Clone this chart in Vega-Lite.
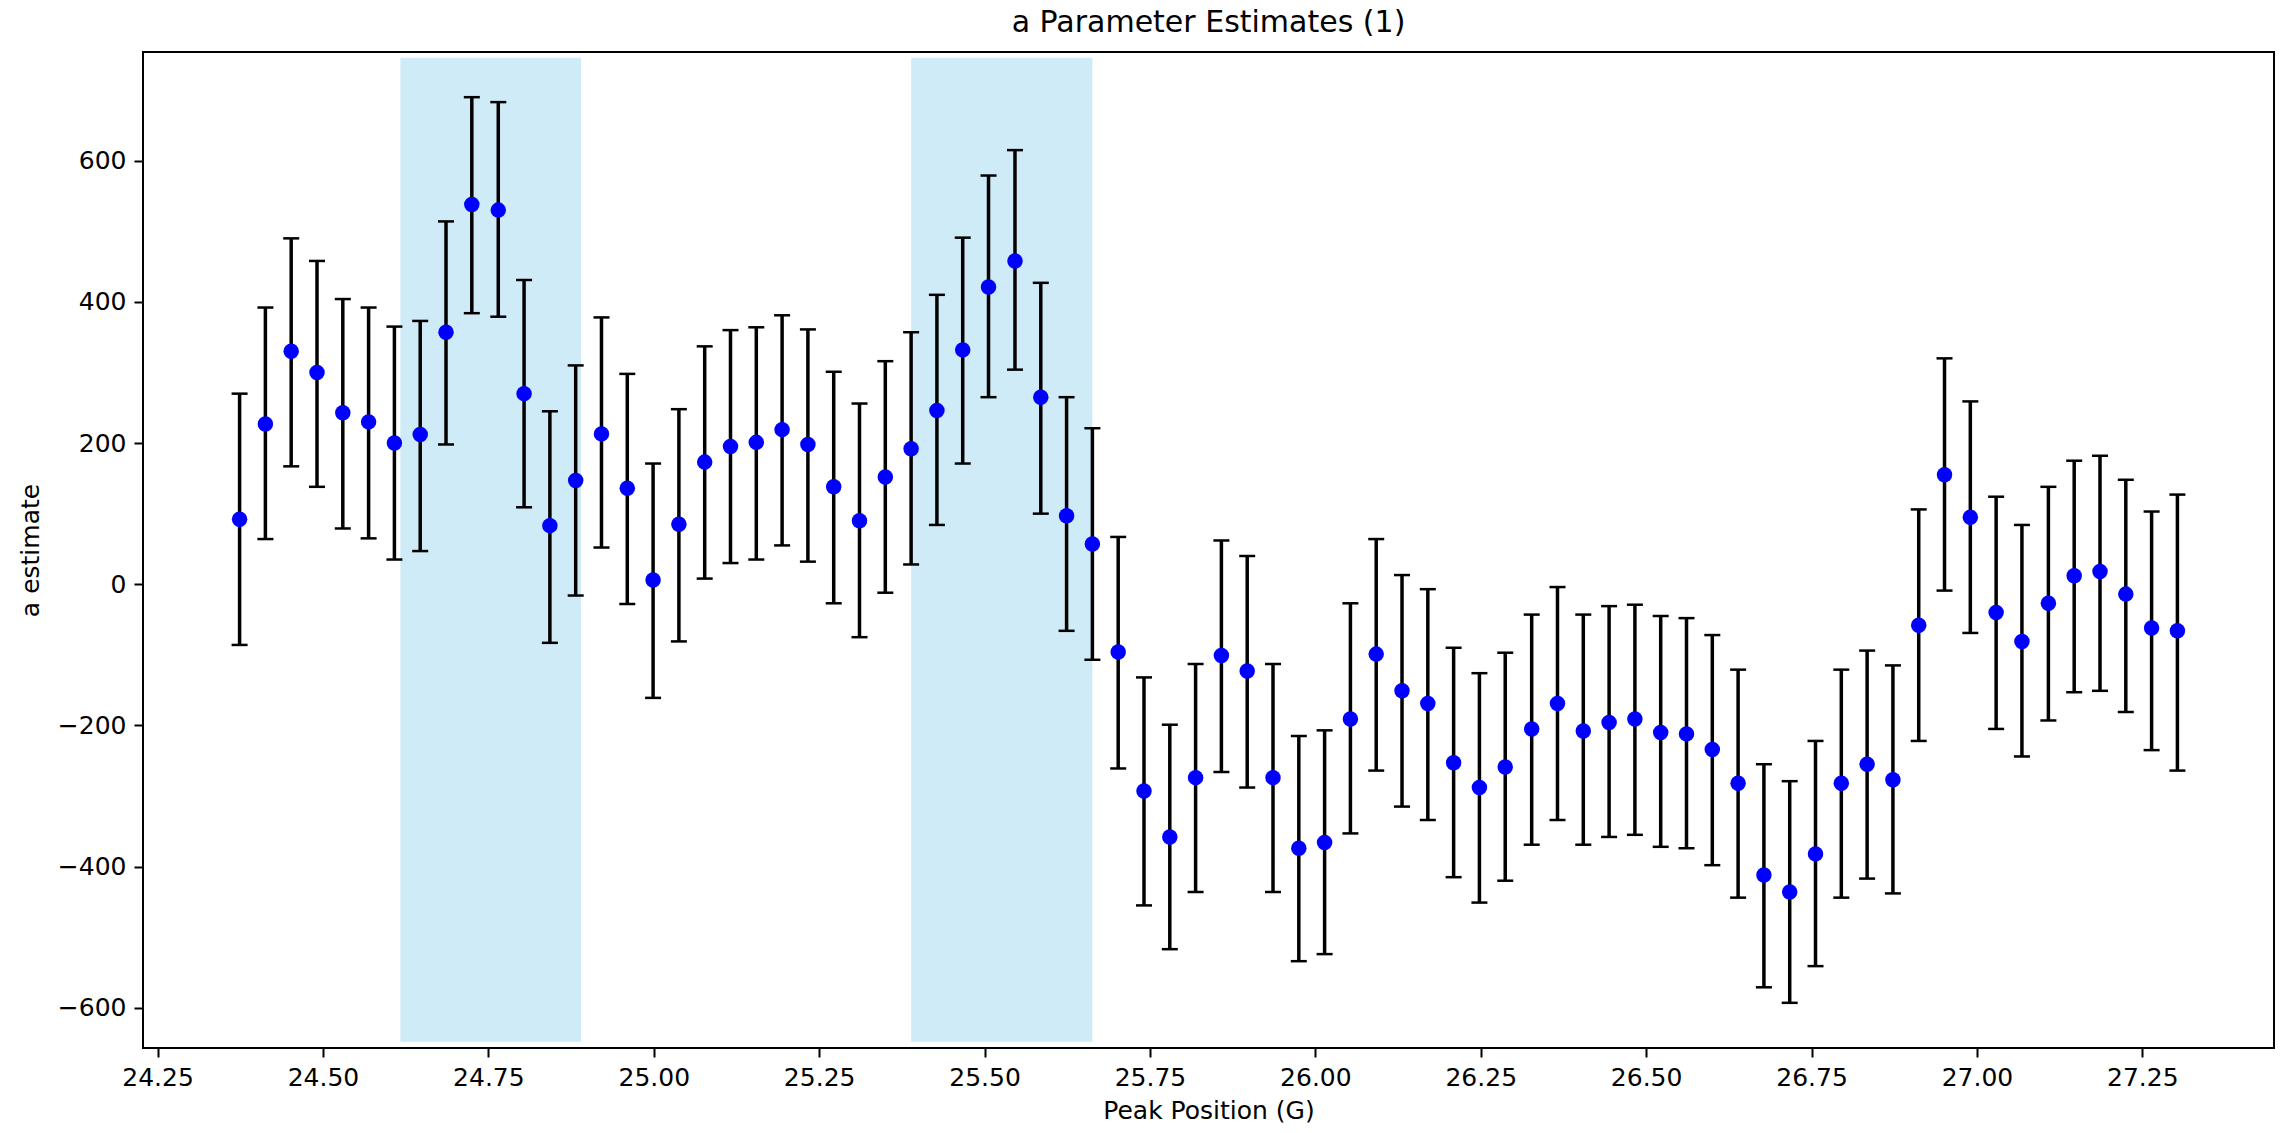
{
  "$schema": "https://vega.github.io/schema/vega-lite/v6.json",
  "autosize": "none",
  "width": 2131,
  "height": 996,
  "padding": {"left": 143, "top": 52, "right": 13, "bottom": 85},
  "background": "white",
  "title": {"text": "a Parameter Estimates (1)", "fontSize": 30, "fontWeight": "normal", "font": "DejaVu Sans", "anchor": "middle", "offset": 14, "color": "black"},
  "config": {
    "font": "DejaVu Sans",
    "view": {"stroke": "black", "strokeWidth": 2},
    "axis": {
      "domain": false,
      "grid": false,
      "ticks": true,
      "tickColor": "black",
      "tickWidth": 2,
      "tickSize": 9,
      "labelFontSize": 25,
      "labelColor": "black",
      "labelPadding": 8,
      "titleFontSize": 25,
      "titleFontWeight": "normal",
      "titleColor": "black",
      "labelFont": "DejaVu Sans",
      "titleFont": "DejaVu Sans"
    }
  },
  "datasets": {
    "spans": [
      {"x1": 24.617, "x2": 24.890, "y1": -648, "y2": 746},
      {"x1": 25.389, "x2": 25.663, "y1": -648, "y2": 746}
    ],
    "points": [
      {"x": 24.374, "y": 92, "hi": 270, "lo": -86},
      {"x": 24.413, "y": 227, "hi": 392, "lo": 64},
      {"x": 24.452, "y": 330, "hi": 490, "lo": 167},
      {"x": 24.491, "y": 300, "hi": 458, "lo": 138},
      {"x": 24.530, "y": 243, "hi": 404, "lo": 79},
      {"x": 24.569, "y": 230, "hi": 392, "lo": 65},
      {"x": 24.608, "y": 200, "hi": 365, "lo": 35},
      {"x": 24.647, "y": 212, "hi": 373, "lo": 47},
      {"x": 24.686, "y": 357, "hi": 514, "lo": 198},
      {"x": 24.725, "y": 538, "hi": 690, "lo": 384},
      {"x": 24.765, "y": 530, "hi": 683, "lo": 379},
      {"x": 24.804, "y": 270, "hi": 431, "lo": 109},
      {"x": 24.843, "y": 83, "hi": 245, "lo": -83},
      {"x": 24.882, "y": 147, "hi": 310, "lo": -16},
      {"x": 24.921, "y": 213, "hi": 378, "lo": 52},
      {"x": 24.960, "y": 136, "hi": 298, "lo": -28},
      {"x": 24.999, "y": 6, "hi": 171, "lo": -161},
      {"x": 25.038, "y": 85, "hi": 248, "lo": -81},
      {"x": 25.077, "y": 173, "hi": 337, "lo": 8},
      {"x": 25.116, "y": 195, "hi": 360, "lo": 30},
      {"x": 25.155, "y": 201, "hi": 364, "lo": 35},
      {"x": 25.194, "y": 219, "hi": 381, "lo": 55},
      {"x": 25.233, "y": 198, "hi": 361, "lo": 32},
      {"x": 25.272, "y": 138, "hi": 301, "lo": -27},
      {"x": 25.311, "y": 90, "hi": 256, "lo": -75},
      {"x": 25.350, "y": 152, "hi": 316, "lo": -12},
      {"x": 25.389, "y": 192, "hi": 357, "lo": 28},
      {"x": 25.428, "y": 246, "hi": 410, "lo": 84},
      {"x": 25.467, "y": 332, "hi": 491, "lo": 171},
      {"x": 25.506, "y": 421, "hi": 579, "lo": 265},
      {"x": 25.546, "y": 458, "hi": 615, "lo": 304},
      {"x": 25.585, "y": 265, "hi": 427, "lo": 100},
      {"x": 25.624, "y": 97, "hi": 265, "lo": -66},
      {"x": 25.663, "y": 57, "hi": 221, "lo": -107},
      {"x": 25.702, "y": -96, "hi": 67, "lo": -261},
      {"x": 25.741, "y": -293, "hi": -132, "lo": -455},
      {"x": 25.780, "y": -358, "hi": -199, "lo": -517},
      {"x": 25.819, "y": -274, "hi": -113, "lo": -436},
      {"x": 25.858, "y": -101, "hi": 62, "lo": -266},
      {"x": 25.897, "y": -123, "hi": 40, "lo": -288},
      {"x": 25.936, "y": -274, "hi": -113, "lo": -436},
      {"x": 25.975, "y": -374, "hi": -215, "lo": -534},
      {"x": 26.014, "y": -366, "hi": -207, "lo": -524},
      {"x": 26.053, "y": -191, "hi": -27, "lo": -353},
      {"x": 26.092, "y": -99, "hi": 64, "lo": -264},
      {"x": 26.131, "y": -151, "hi": 13, "lo": -315},
      {"x": 26.170, "y": -169, "hi": -7, "lo": -334},
      {"x": 26.209, "y": -253, "hi": -90, "lo": -415},
      {"x": 26.248, "y": -288, "hi": -126, "lo": -451},
      {"x": 26.287, "y": -259, "hi": -97, "lo": -420},
      {"x": 26.327, "y": -205, "hi": -43, "lo": -369},
      {"x": 26.366, "y": -169, "hi": -4, "lo": -334},
      {"x": 26.405, "y": -208, "hi": -43, "lo": -369},
      {"x": 26.444, "y": -196, "hi": -31, "lo": -358},
      {"x": 26.483, "y": -191, "hi": -29, "lo": -355},
      {"x": 26.522, "y": -210, "hi": -45, "lo": -372},
      {"x": 26.561, "y": -212, "hi": -48, "lo": -374},
      {"x": 26.600, "y": -234, "hi": -72, "lo": -398},
      {"x": 26.639, "y": -282, "hi": -121, "lo": -444},
      {"x": 26.678, "y": -412, "hi": -255, "lo": -571},
      {"x": 26.717, "y": -436, "hi": -279, "lo": -593},
      {"x": 26.756, "y": -382, "hi": -222, "lo": -541},
      {"x": 26.795, "y": -282, "hi": -121, "lo": -444},
      {"x": 26.834, "y": -255, "hi": -94, "lo": -417},
      {"x": 26.873, "y": -277, "hi": -115, "lo": -438},
      {"x": 26.912, "y": -58, "hi": 106, "lo": -222},
      {"x": 26.951, "y": 155, "hi": 320, "lo": -9},
      {"x": 26.990, "y": 95, "hi": 259, "lo": -69},
      {"x": 27.029, "y": -40, "hi": 124, "lo": -205},
      {"x": 27.068, "y": -81, "hi": 84, "lo": -244},
      {"x": 27.108, "y": -27, "hi": 138, "lo": -193},
      {"x": 27.147, "y": 12, "hi": 175, "lo": -153},
      {"x": 27.186, "y": 18, "hi": 182, "lo": -151},
      {"x": 27.225, "y": -14, "hi": 148, "lo": -181},
      {"x": 27.264, "y": -62, "hi": 103, "lo": -235},
      {"x": 27.303, "y": -66, "hi": 127, "lo": -264}
    ]
  },
  "layer": [
    {
      "data": {"name": "spans"},
      "mark": {"type": "rect", "color": "#87ceeb", "opacity": 0.4},
      "encoding": {
        "x": {"field": "x1", "type": "quantitative", "title": "Peak Position (G)", "scale": {"domain": [24.228, 27.449], "nice": false, "zero": false}},
        "x2": {"field": "x2"},
        "y": {"field": "y1", "type": "quantitative", "title": "a estimate", "scale": {"domain": [-657, 754], "nice": false, "zero": false}},
        "y2": {"field": "y2"}
      }
    },
    {
      "data": {"name": "points"},
      "mark": {"type": "rule", "color": "black", "strokeWidth": 3.5},
      "encoding": {
        "x": {"field": "x", "type": "quantitative", "title": "Peak Position (G)", "scale": {"domain": [24.228, 27.449], "nice": false, "zero": false}},
        "y": {"field": "lo", "type": "quantitative", "title": "a estimate", "scale": {"domain": [-657, 754], "nice": false, "zero": false}},
        "y2": {"field": "hi"}
      }
    },
    {
      "data": {"name": "points"},
      "mark": {"type": "tick", "orient": "horizontal", "color": "black", "size": 16, "thickness": 2.5, "opacity": 1},
      "encoding": {
        "x": {"field": "x", "type": "quantitative", "title": "Peak Position (G)", "scale": {"domain": [24.228, 27.449], "nice": false, "zero": false}},
        "y": {"field": "hi", "type": "quantitative", "title": "a estimate", "scale": {"domain": [-657, 754], "nice": false, "zero": false}}
      }
    },
    {
      "data": {"name": "points"},
      "mark": {"type": "tick", "orient": "horizontal", "color": "black", "size": 16, "thickness": 2.5, "opacity": 1},
      "encoding": {
        "x": {"field": "x", "type": "quantitative", "title": "Peak Position (G)", "scale": {"domain": [24.228, 27.449], "nice": false, "zero": false}},
        "y": {"field": "lo", "type": "quantitative", "title": "a estimate", "scale": {"domain": [-657, 754], "nice": false, "zero": false}}
      }
    },
    {
      "data": {"name": "points"},
      "mark": {"type": "circle", "color": "#0000ff", "size": 240, "opacity": 1},
      "encoding": {
        "x": {"field": "x", "type": "quantitative", "title": "Peak Position (G)", "scale": {"domain": [24.228, 27.449], "nice": false, "zero": false},
              "axis": {"values": [24.25, 24.5, 24.75, 25, 25.25, 25.5, 25.75, 26, 26.25, 26.5, 26.75, 27, 27.25], "format": ".2f", "titlePadding": 8, "labelFlush": false, "labelOverlap": false}},
        "y": {"field": "y", "type": "quantitative", "title": "a estimate", "scale": {"domain": [-657, 754], "nice": false, "zero": false},
              "axis": {"values": [-600, -400, -200, 0, 200, 400, 600], "titlePadding": 14, "labelFlush": false, "labelOverlap": false}}
      }
    }
  ]
}
